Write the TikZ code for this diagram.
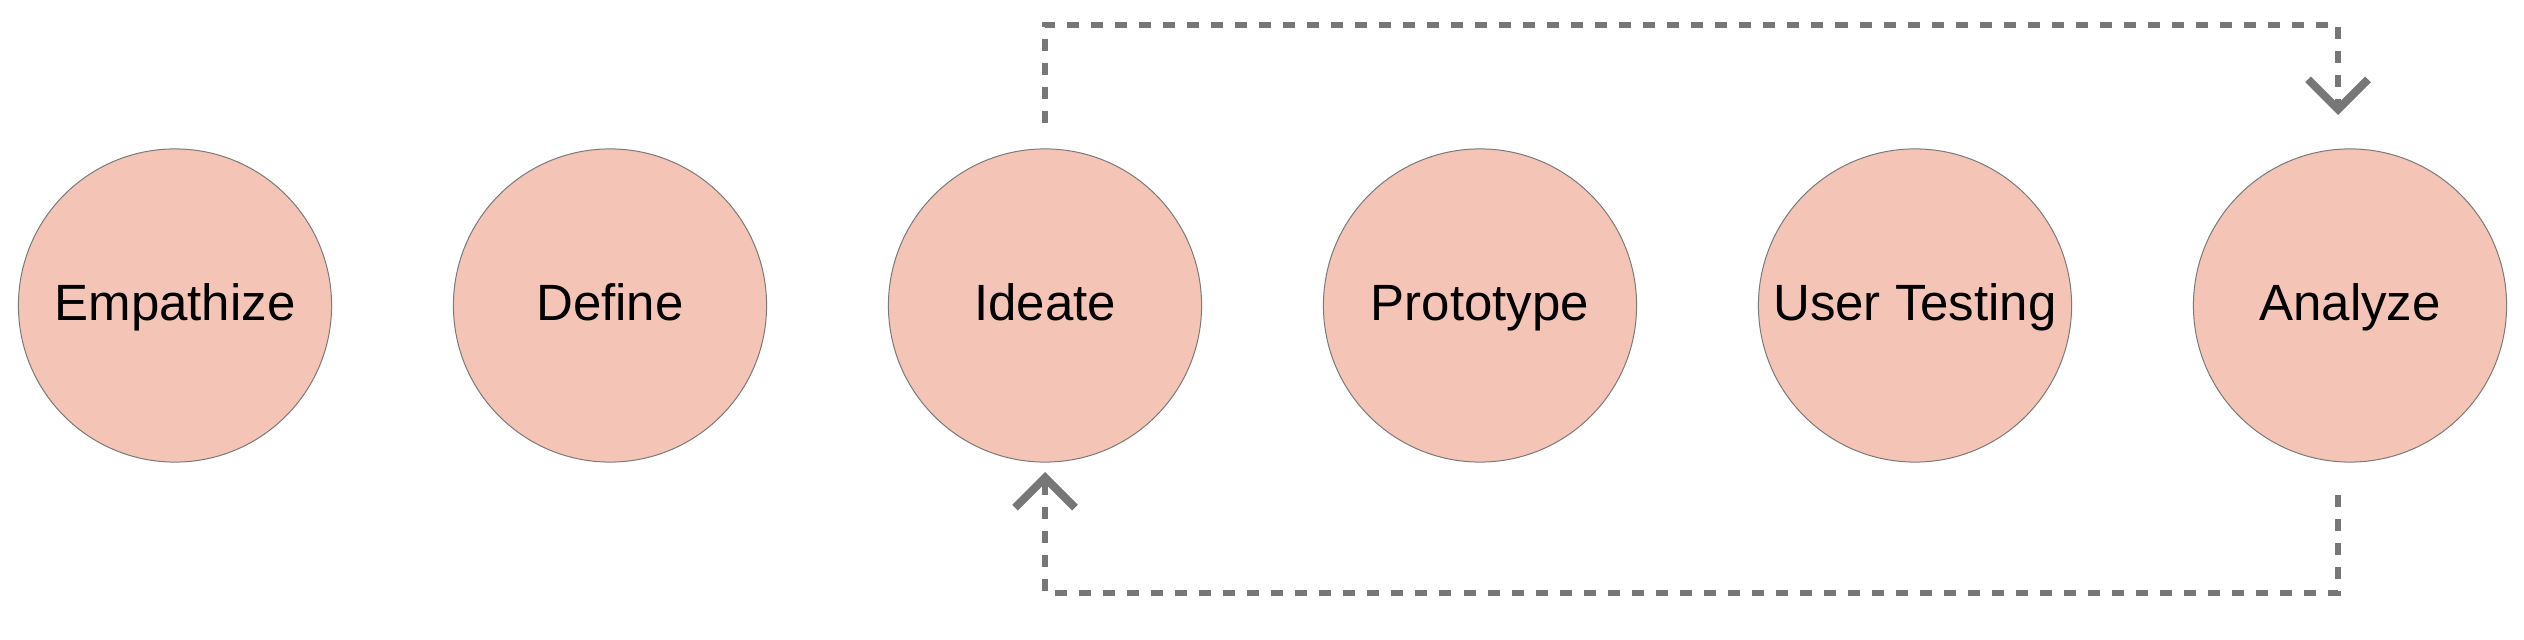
\documentclass[tikz,border=0pt]{standalone}
\usepackage{fontspec}
\setmainfont{Liberation Sans}
\usetikzlibrary{arrows.meta}
\definecolor{fillc}{HTML}{F4C5B6}
\definecolor{edgec}{HTML}{7A7A7A}
\definecolor{linkc}{HTML}{777777}
\begin{document}
\begin{tikzpicture}[x=0.01cm,y=-0.01cm,
  stage/.style={circle, draw=edgec, fill=fillc, line width=0.01cm, minimum size=3.13cm, inner sep=0pt,
    text height=1.0em, text depth=0.16em, font=\fontsize{14.5pt}{16pt}\selectfont},
  loop/.style={draw=linkc, line width=0.06cm, dash pattern=on 0.12cm off 0.12cm,
    -{Straight Barb[length=0.3cm, width=0.6cm, line width=0.08cm]}}]
\useasboundingbox (0,0) rectangle (2524,640);
\node[stage] (emp) at (175,305.5) {Empathize};
\node[stage] (def) at (610,305.5) {Define};
\node[stage] (ide) at (1045,305.5) {Ideate};
\node[stage] (pro) at (1480,305.5) {Prototype};
\node[stage] (ust) at (1915,305.5) {User Testing};
\node[stage] (ana) at (2350,305.5) {Analyze};
% top loop: Ideate -> Analyze
\coordinate (ts) at (1045,123);
\coordinate (tc1) at (1045,25);
\coordinate (tc2) at (2338,25);
\coordinate (te) at (2338,115);
\draw[loop] (ts) -- (tc1) -- (tc2) -- (te);
% bottom loop: Analyze -> Ideate
\coordinate (bs) at (2338,495);
\coordinate (bc1) at (2338,593);
\coordinate (bc2) at (1045,593);
\coordinate (be) at (1045,472);
\draw[loop] (bs) -- (bc1) -- (bc2) -- (be);
\end{tikzpicture}
\end{document}
